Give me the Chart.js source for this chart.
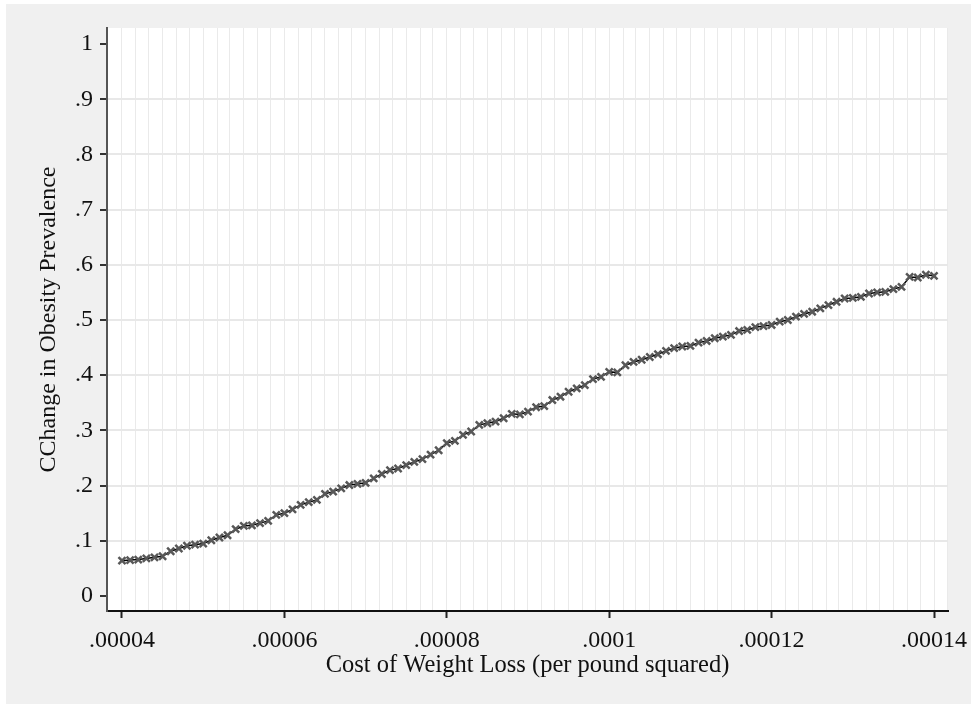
<!DOCTYPE html>
<html>
<head>
<meta charset="utf-8">
<script src="https://cdn.jsdelivr.net/npm/chart.js@4.4.0/dist/chart.umd.min.js"></script>
<style>
  html, body { margin: 0; padding: 0; background: #ffffff; }
  canvas { display: block; }
</style>
</head>
<body>
<canvas id="chart" width="971" height="704"></canvas>
<script>
// Cost of weight loss (per pound squared) at each simulated step
const costPerPoundSq = [
  0.000040, 0.000041, 0.000042, 0.000043, 0.000044, 0.000045, 0.000046, 0.000047, 0.000048, 0.000049,
  0.000050, 0.000051, 0.000052, 0.000053, 0.000054, 0.000055, 0.000056, 0.000057, 0.000058, 0.000059,
  0.000060, 0.000061, 0.000062, 0.000063, 0.000064, 0.000065, 0.000066, 0.000067, 0.000068, 0.000069,
  0.000070, 0.000071, 0.000072, 0.000073, 0.000074, 0.000075, 0.000076, 0.000077, 0.000078, 0.000079,
  0.000080, 0.000081, 0.000082, 0.000083, 0.000084, 0.000085, 0.000086, 0.000087, 0.000088, 0.000089,
  0.000090, 0.000091, 0.000092, 0.000093, 0.000094, 0.000095, 0.000096, 0.000097, 0.000098, 0.000099,
  0.000100, 0.000101, 0.000102, 0.000103, 0.000104, 0.000105, 0.000106, 0.000107, 0.000108, 0.000109,
  0.000110, 0.000111, 0.000112, 0.000113, 0.000114, 0.000115, 0.000116, 0.000117, 0.000118, 0.000119,
  0.000120, 0.000121, 0.000122, 0.000123, 0.000124, 0.000125, 0.000126, 0.000127, 0.000128, 0.000129,
  0.000130, 0.000131, 0.000132, 0.000133, 0.000134, 0.000135, 0.000136, 0.000137, 0.000138, 0.000139,
  0.000140
];

// Change in obesity prevalence at each cost level
const prevalenceChange = [
  0.064, 0.065, 0.066, 0.068, 0.070, 0.072, 0.081, 0.086, 0.091, 0.093,
  0.095, 0.101, 0.106, 0.110, 0.121, 0.127, 0.128, 0.132, 0.136, 0.147,
  0.150, 0.157, 0.165, 0.170, 0.174, 0.185, 0.189, 0.195, 0.201, 0.203,
  0.205, 0.213, 0.221, 0.228, 0.231, 0.237, 0.243, 0.248, 0.256, 0.264,
  0.277, 0.281, 0.292, 0.298, 0.310, 0.313, 0.316, 0.322, 0.330, 0.329,
  0.334, 0.342, 0.344, 0.355, 0.361, 0.370, 0.376, 0.382, 0.393, 0.397,
  0.406, 0.405, 0.418, 0.424, 0.428, 0.433, 0.438, 0.444, 0.449, 0.452,
  0.453, 0.459, 0.462, 0.467, 0.470, 0.473, 0.480, 0.482, 0.487, 0.489,
  0.491, 0.497, 0.500, 0.506, 0.511, 0.515, 0.521, 0.527, 0.533, 0.539,
  0.540, 0.542, 0.548, 0.550, 0.551, 0.556, 0.560, 0.578, 0.577, 0.582,
  0.580
];

// Labelled x ticks
const xTickValues = [0.00004, 0.00006, 0.00008, 0.00010, 0.00012, 0.00014];
const xTickLabels = ['.00004', '.00006', '.00008', '.0001', '.00012', '.00014'];

// Light vertical grid lines
const xGridValues = [
  0.0000400, 0.0000417, 0.0000433, 0.0000450, 0.0000467, 0.0000483,
  0.0000500, 0.0000517, 0.0000533, 0.0000550, 0.0000567, 0.0000583,
  0.0000600, 0.0000617, 0.0000633, 0.0000650, 0.0000667, 0.0000683,
  0.0000700, 0.0000717, 0.0000733, 0.0000750, 0.0000767, 0.0000783,
  0.0000800, 0.0000817, 0.0000833, 0.0000850, 0.0000867, 0.0000883,
  0.0000900, 0.0000917, 0.0000933, 0.0000950, 0.0000967, 0.0000983,
  0.0001000, 0.0001017, 0.0001033, 0.0001050, 0.0001067, 0.0001083,
  0.0001100, 0.0001117, 0.0001133, 0.0001150, 0.0001167, 0.0001183,
  0.0001200, 0.0001217, 0.0001233, 0.0001250, 0.0001267, 0.0001283,
  0.0001300, 0.0001317, 0.0001333, 0.0001350, 0.0001367, 0.0001383,
  0.0001400, 0.0001417
];

// Labelled y ticks
const yTickValues = [0, 0.1, 0.2, 0.3, 0.4, 0.5, 0.6, 0.7, 0.8, 0.9, 1];
const yTickLabels = ['0', '.1', '.2', '.3', '.4', '.5', '.6', '.7', '.8', '.9', '1'];

const FONT = '"Liberation Serif", "Times New Roman", serif';
const near = (a, b) => Math.abs(a - b) < 1e-10;
const isMajorX = v => xTickValues.some(t => near(t, v));

// Gray page with a white plot region
const backdrop = {
  id: 'backdrop',
  beforeDraw(chart) {
    const { ctx, chartArea: a } = chart;
    ctx.save();
    ctx.fillStyle = '#ffffff';
    ctx.fillRect(0, 0, chart.width, chart.height);
    ctx.fillStyle = '#f0f0f0';
    ctx.fillRect(6, 4, chart.width - 6, chart.height - 4);
    ctx.fillStyle = '#ffffff';
    ctx.fillRect(a.left, a.top, a.right - a.left, a.bottom - a.top);
    ctx.restore();
  }
};

const points = costPerPoundSq.map((x, i) => ({ x, y: prevalenceChange[i] }));

new Chart(document.getElementById('chart'), {
  type: 'line',
  data: {
    datasets: [{
      data: points,
      borderColor: '#000000',
      borderWidth: 1.5,
      pointStyle: 'crossRot',
      pointRadius: 5,
      pointBorderColor: '#585858',
      pointBorderWidth: 2.5,
      pointBackgroundColor: '#585858',
      tension: 0
    }]
  },
  options: {
    responsive: false,
    animation: false,
    layout: { padding: { top: 28, right: 23, left: 0, bottom: 0 } },
    plugins: { legend: { display: false }, tooltip: { enabled: false } },
    scales: {
      x: {
        type: 'linear',
        min: 0.000038153,
        max: 0.000141724,
        afterBuildTicks(scale) {
          const all = [...xGridValues];
          xTickValues.forEach(v => { if (!all.some(g => near(g, v))) all.push(v); });
          all.sort((a, b) => a - b);
          scale.ticks = all.map(value => ({ value }));
        },
        afterFit(scale) { scale.height = 93; },
        grid: {
          color: '#eaeaea',
          lineWidth: 1,
          tickLength: 7,
          tickWidth: 2,
          tickColor: ctx => (ctx.tick && isMajorX(ctx.tick.value)) ? '#222222' : 'rgba(0,0,0,0)'
        },
        border: { color: '#111111', width: 2 },
        ticks: {
          autoSkip: false,
          maxRotation: 0,
          minRotation: 0,
          padding: 8,
          color: '#111111',
          font: { family: FONT, size: 24 },
          callback: value => {
            const i = xTickValues.findIndex(t => near(t, value));
            return i >= 0 ? xTickLabels[i] : '';
          }
        },
        title: {
          display: true,
          text: 'Cost of Weight Loss (per pound squared)',
          color: '#111111',
          font: { family: FONT, size: 24.5 },
          padding: { top: 0, bottom: 24 }
        }
      },
      y: {
        type: 'linear',
        min: -0.0272,
        max: 1.029,
        afterBuildTicks(scale) { scale.ticks = yTickValues.map(value => ({ value })); },
        afterFit(scale) { scale.width = 107; },
        grid: {
          color: ctx => (ctx.tick && (near(ctx.tick.value, 0) || near(ctx.tick.value, 1))) ? 'rgba(0,0,0,0)' : '#e8e8e8',
          lineWidth: 2,
          tickLength: 7,
          tickWidth: 2,
          tickColor: '#333333'
        },
        border: { color: '#555555', width: 2 },
        ticks: {
          padding: 7,
          color: '#111111',
          font: { family: FONT, size: 24 },
          callback: value => {
            const i = yTickValues.findIndex(t => near(t, value));
            return i >= 0 ? yTickLabels[i] : '';
          }
        },
        title: {
          display: true,
          text: 'CChange in Obesity Prevalence',
          color: '#111111',
          font: { family: FONT, size: 24 },
          padding: { top: 34, bottom: 0 }
        }
      }
    }
  },
  plugins: [backdrop]
});
</script>
</body>
</html>
